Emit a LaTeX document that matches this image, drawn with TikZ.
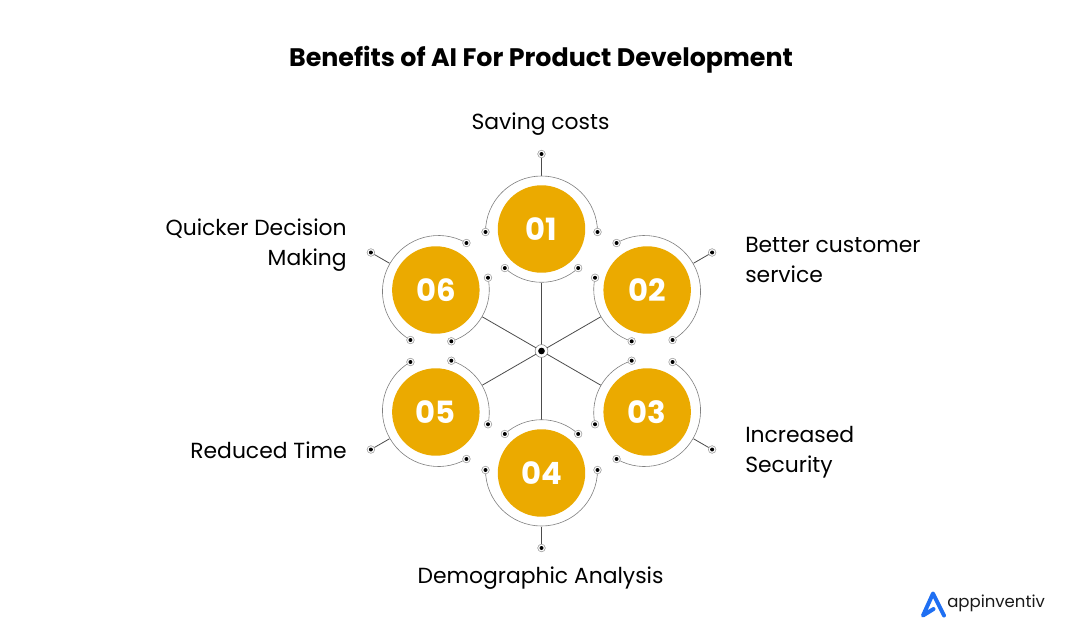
\documentclass[tikz,border=0pt]{standalone}
\usepackage{fontspec}
\setmainfont{Poppins}
\usetikzlibrary{calc}
\definecolor{discgold}{HTML}{EBAA00}
\definecolor{logoblue}{HTML}{1F6FF2}
\tikzset{
  disc/.style={circle,fill=discgold,minimum size=65.6pt,inner sep=0pt,text=white,font=\fontsize{23}{23}\selectfont\bfseries},
  pinring/.style={circle,draw=black!35,fill=white,line width=.4pt,minimum size=5.6pt,inner sep=0pt},
  pindot/.style={circle,fill=black,minimum size=3pt,inner sep=0pt},
  ringline/.style={draw=black!50,line width=.45pt},
  spoke/.style={draw=black!70,line width=.6pt},
  label/.style={font=\fontsize{16.4}{22.5}\selectfont,text=black,inner sep=0pt},
  titletext/.style={font=\fontsize{19}{24}\selectfont\bfseries,text=black,inner sep=0pt},
}
\begin{document}
\begin{tikzpicture}[x=.75pt,y=-.75pt]
\useasboundingbox (0,0) rectangle (1080,632);
\fill[white] (0,0) rectangle (1080,632);
\coordinate (hub) at (541.5,351);
\node[titletext] (title) at (541,60) {Benefits of AI For Product Development};
% spokes and rings
\foreach \i/\a/\n in {1/270/01,2/330/02,3/30/03,4/90/04,5/150/05,6/210/06}{
  \node[disc] (d\i) at ($(hub)+(\a:122)$) {\n};
  \coordinate (c\i) at ($(hub)+(\a:119)$);
  \coordinate (e\i) at ($(hub)+(\a:123)$);
  \coordinate (in\i) at ($(d\i)+(\a+180:53.5)$);
  \coordinate (ou\i) at ($(d\i)+(\a:53.5)$);
  \node[pinring] (pa\i) at ($(c\i)+(\a-90:56)$) {};
  \node[pinring] (pb\i) at ($(c\i)+(\a+90:56)$) {};
  \node[pinring] (pc\i) at ($(e\i)+(\a+180-42.5:54.3)$) {};
  \node[pinring] (pd\i) at ($(e\i)+(\a+180+42.5:54.3)$) {};
  \node[pinring] (pe\i) at ($(d\i)+(\a:75)$) {};
  \draw[spoke] (hub) -- (in\i);
  \draw[spoke] (ou\i) -- (pe\i);
  \draw[ringline] (pa\i.center) arc[start angle=\a-90,end angle=\a+90,radius=56];
  \draw[ringline] (pc\i.center) arc[start angle=\a+180-42.5,end angle=\a+180+42.5,radius=54.3];
  \foreach \p in {a,b,c,d,e}{
    \node[pinring] (r\p\i) at (p\p\i) {};
    \node[pindot] (q\p\i) at (p\p\i) {};
  }
}
\node[circle,draw=black!50,fill=white,line width=.4pt,minimum size=9.6pt,inner sep=0pt] (hubring) at (hub) {};
\node[circle,fill=black,minimum size=5pt,inner sep=0pt] (hubdot) at (hub) {};
% labels
\node[label] (l1) at (540.5,124.5) {Saving costs};
\node[label,anchor=west,align=left] (l2) at (745,260) {Better customer\\service};
\node[label,anchor=west,align=left] (l3) at (745,452.5) {Increased\\Security};
\node[label] (l4) at (540.5,578.5) {Demographic Analysis};
\node[label,anchor=east] (l5) at (347,450) {Reduced Time};
\node[label,anchor=east,align=right] (l6) at (347,245.5) {Quicker Decision\\Making};
% logo
\draw[logoblue,line width=3pt,line join=round,line cap=round] (944,615.5) -- (933,593.5) -- (923,615.5) -- (933.5,609);
\node[font=\fontsize{12.4}{14}\selectfont,text=black!90,inner sep=0pt,anchor=west] (logo) at (947,603.5) {appinventiv};
\end{tikzpicture}
\end{document}
